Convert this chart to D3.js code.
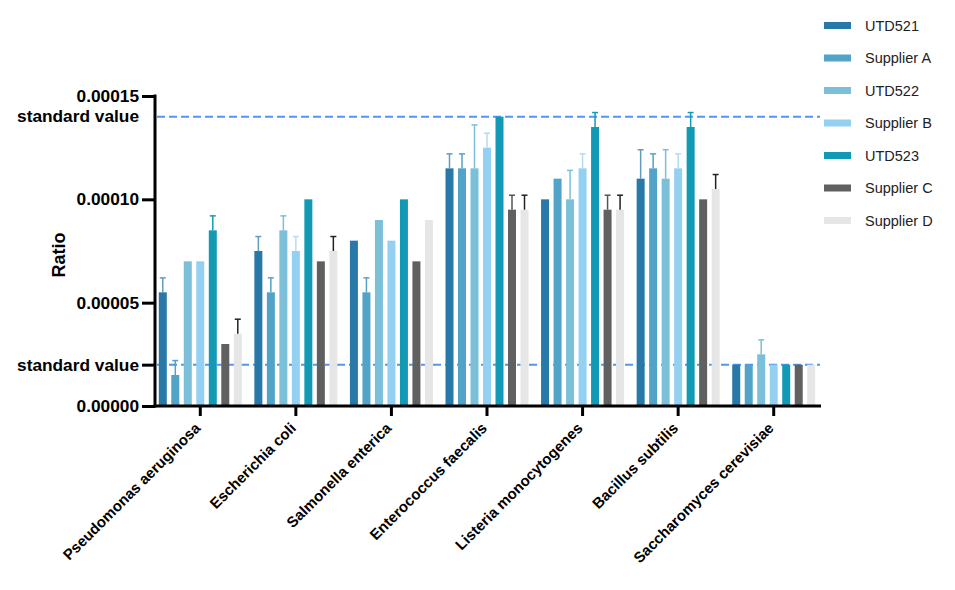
<!DOCTYPE html>
<html>
<head>
<meta charset="utf-8">
<script src="https://cdn.jsdelivr.net/npm/d3@7"></script>
<style>
  body { margin: 0; background: #fff; }
  svg { display: block; font-family: "Liberation Sans", Arial, sans-serif; }
</style>
</head>
<body>
<div id="chart"></div>
<script>
const categories = ['Pseudomonas aeruginosa', 'Escherichia coli', 'Salmonella enterica',
  'Enterococcus faecalis', 'Listeria monocytogenes', 'Bacillus subtilis', 'Saccharomyces cerevisiae'];
const seriesNames = ['UTD521', 'Supplier A', 'UTD522', 'Supplier B', 'UTD523', 'Supplier C', 'Supplier D'];
const seriesColors = ['#2878a8', '#52a3c8', '#7bbfd9', '#93d0f2', '#129ab5', '#606060', '#e6e6e6'];
const errorColors = ['#5f9cbd', '#52a3c8', '#7bbfd9', '#b2ddf5', '#129ab5', '#555555', '#222222'];

const utd521 = [5.5e-5, 7.5e-5, 8.0e-5, 11.5e-5, 10.0e-5, 11.0e-5, 2.0e-5];
const supplierA = [1.5e-5, 5.5e-5, 5.5e-5, 11.5e-5, 11.0e-5, 11.5e-5, 2.0e-5];
const utd522 = [7.0e-5, 8.5e-5, 9.0e-5, 11.5e-5, 10.0e-5, 11.0e-5, 2.5e-5];
const supplierB = [7.0e-5, 7.5e-5, 8.0e-5, 12.5e-5, 11.5e-5, 11.5e-5, 2.0e-5];
const utd523 = [8.5e-5, 10.0e-5, 10.0e-5, 14.0e-5, 13.5e-5, 13.5e-5, 2.0e-5];
const supplierC = [3.0e-5, 7.0e-5, 7.0e-5, 9.5e-5, 9.5e-5, 10.0e-5, 2.0e-5];
const supplierD = [3.5e-5, 7.5e-5, 9.0e-5, 9.5e-5, 9.5e-5, 10.5e-5, 2.0e-5];

// upper error bar length (0 = none drawn)
const errUtd521 = [0.7e-5, 0.7e-5, 0, 0.7e-5, 0, 1.4e-5, 0];
const errSupplierA = [0.7e-5, 0.7e-5, 0.7e-5, 0.7e-5, 0, 0.7e-5, 0];
const errUtd522 = [0, 0.7e-5, 0, 2.1e-5, 1.4e-5, 1.4e-5, 0.7e-5];
const errSupplierB = [0, 0.7e-5, 0, 0.7e-5, 0.7e-5, 0.7e-5, 0];
const errUtd523 = [0.7e-5, 0, 0, 0, 0.7e-5, 0.7e-5, 0];
const errSupplierC = [0, 0, 0, 0.7e-5, 0.7e-5, 0, 0];
const errSupplierD = [0.7e-5, 0.7e-5, 0, 0.7e-5, 0.7e-5, 0.7e-5, 0];

const yTicks = [0, 0.00005, 0.0001, 0.00015];
const standardValues = [0.00002, 0.00014];

const values = [utd521, supplierA, utd522, supplierB, utd523, supplierC, supplierD];
const errors = [errUtd521, errSupplierA, errUtd522, errSupplierB, errUtd523, errSupplierC, errSupplierD];

const width = 955, height = 590;
const svg = d3.select('#chart').append('svg')
  .attr('width', width).attr('height', height);

const x = d3.scaleBand().domain(categories).range([152.5, 821.5]).padding(0);
const groupW = 83;
const xs = d3.scaleBand().domain(seriesNames)
  .range([(x.bandwidth() - groupW) / 2, (x.bandwidth() + groupW) / 2])
  .paddingInner(0.36).paddingOuter(0);
const y = d3.scaleLinear().domain([0, 0.00015]).range([406, 96]);

// standard value lines (behind bars)
svg.append('g')
  .selectAll('line')
  .data(standardValues)
  .join('line')
  .attr('x1', 157).attr('x2', 820)
  .attr('y1', d => y(d)).attr('y2', d => y(d))
  .attr('stroke', '#4f97f3')
  .attr('stroke-width', 2)
  .attr('stroke-dasharray', '8,4');

// bars
const rows = [];
categories.forEach((c, ci) => {
  seriesNames.forEach((s, si) => {
    rows.push({ cat: c, series: s, si, value: values[si][ci], err: errors[si][ci] });
  });
});

svg.append('g')
  .selectAll('rect')
  .data(rows)
  .join('rect')
  .attr('x', d => x(d.cat) + xs(d.series))
  .attr('y', d => y(d.value))
  .attr('width', xs.bandwidth())
  .attr('height', d => y(0) - y(d.value))
  .attr('fill', d => seriesColors[d.si]);

// error bars (upper only)
const eb = svg.append('g')
  .selectAll('g')
  .data(rows.filter(d => d.err > 0))
  .join('g')
  .attr('stroke', d => errorColors[d.si])
  .attr('stroke-width', 1.5);
eb.append('line')
  .attr('x1', d => x(d.cat) + xs(d.series) + xs.bandwidth() / 2)
  .attr('x2', d => x(d.cat) + xs(d.series) + xs.bandwidth() / 2)
  .attr('y1', d => y(d.value))
  .attr('y2', d => y(d.value + d.err));
eb.append('line')
  .attr('x1', d => x(d.cat) + xs(d.series) + xs.bandwidth() / 2 - 3)
  .attr('x2', d => x(d.cat) + xs(d.series) + xs.bandwidth() / 2 + 3)
  .attr('y1', d => y(d.value + d.err))
  .attr('y2', d => y(d.value + d.err));

// y axis
const yAxis = d3.axisLeft(y)
  .tickValues(yTicks.concat([standardValues[0]]))
  .tickFormat(d => d === standardValues[0] ? 'standard value' : d3.format('.5f')(d))
  .tickSizeInner(13).tickSizeOuter(0).tickPadding(3);
const gy = svg.append('g').attr('transform', 'translate(155,0)').call(yAxis);
gy.select('.domain').attr('stroke', '#000').attr('stroke-width', 3)
  .attr('d', `M0,${y(0.00015) - 1.5}V${y(0) + 1.5}`);
gy.selectAll('.tick line').attr('stroke', '#000').attr('stroke-width', 3);
gy.selectAll('.tick text')
  .attr('fill', '#000').attr('font-size', 17.3).attr('font-weight', 'bold')
  .attr('font-family', '"Liberation Sans", Arial, sans-serif');

svg.append('text')
  .attr('x', 139).attr('y', y(standardValues[1]))
  .attr('dy', '0.32em')
  .attr('text-anchor', 'end')
  .attr('font-size', 17.3).attr('font-weight', 'bold')
  .text('standard value');

svg.append('text')
  .attr('transform', `translate(65,${(y(0) + y(0.00015)) / 2 + 4}) rotate(-90)`)
  .attr('text-anchor', 'middle')
  .attr('font-size', 18).attr('font-weight', 'bold')
  .text('Ratio');

// x axis
const xAxis = d3.axisBottom(x).tickSizeInner(10).tickSizeOuter(0).tickFormat('');
const gx = svg.append('g').attr('transform', `translate(0,${y(0)})`).call(xAxis);
gx.select('.domain').attr('stroke', '#000').attr('stroke-width', 3)
  .attr('d', 'M153.5,0H821');
gx.selectAll('.tick line').attr('stroke', '#000').attr('stroke-width', 3);

svg.append('g')
  .selectAll('text')
  .data(categories)
  .join('text')
  .attr('transform', d => `translate(${x(d) + x.bandwidth() / 2 + 1},${y(0) + 23}) rotate(-45)`)
  .attr('text-anchor', 'end')
  .attr('font-size', 15).attr('font-weight', 'bold')
  .text(d => d);

// legend
const legend = svg.append('g')
  .selectAll('g')
  .data(seriesNames)
  .join('g')
  .attr('transform', (d, i) => `translate(824,${25.5 + i * 32.5})`);
legend.append('rect')
  .attr('x', 0).attr('y', -3.5)
  .attr('width', 27).attr('height', 7)
  .attr('fill', (d, i) => seriesColors[i]);
legend.append('text')
  .attr('x', 41).attr('dy', '0.35em')
  .attr('font-size', 14.5).attr('fill', '#222')
  .text(d => d);
</script>
</body>
</html>
